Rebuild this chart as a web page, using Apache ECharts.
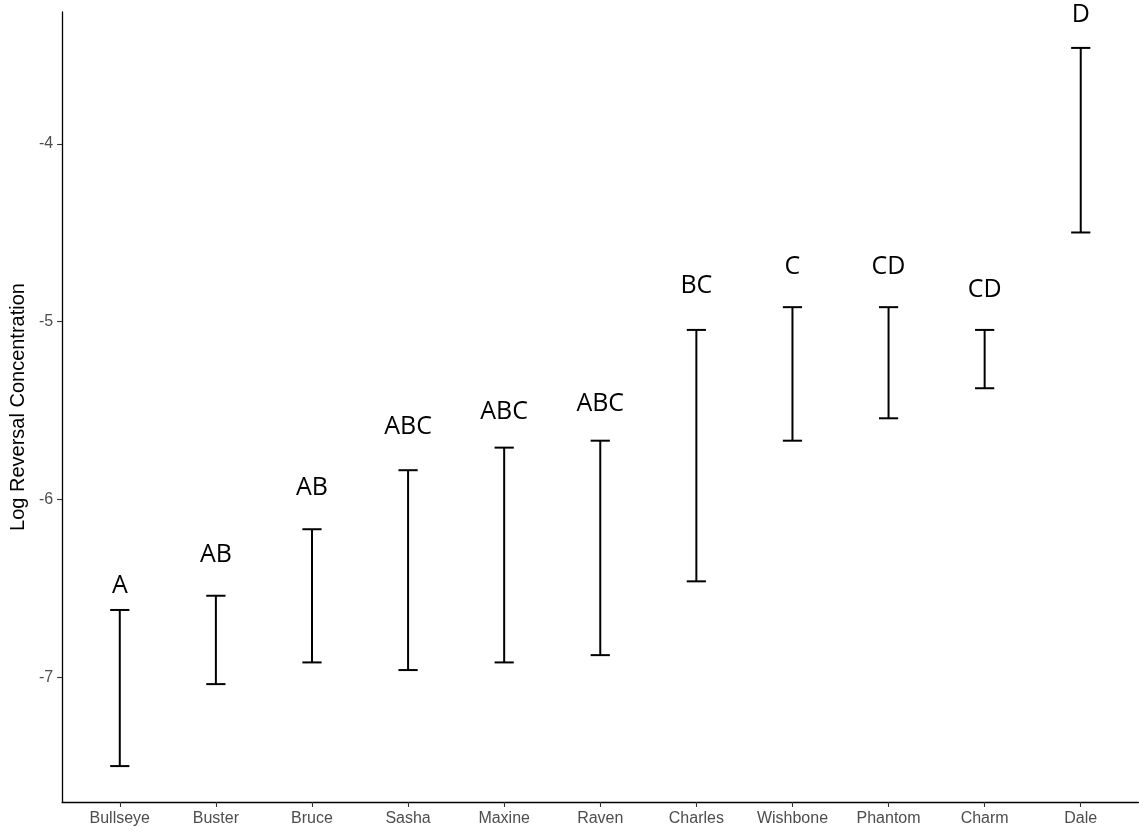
<!DOCTYPE html>
<html>
<head>
<meta charset="utf-8">
<script src="https://cdn.jsdelivr.net/npm/echarts@6/dist/echarts.min.js"></script>
<style>
html,body{margin:0;padding:0;background:#fff;}
#chart{width:1139px;height:832px;}
</style>
</head>
<body>
<div id="chart"></div>
<script>
const categories = ['Bullseye','Buster','Bruce','Sasha','Maxine','Raven','Charles','Wishbone','Phantom','Charm','Dale'];
const lower = [-7.500,-7.039,-6.917,-6.960,-6.917,-6.876,-6.461,-5.670,-5.544,-5.375,-4.499];
const upper = [-6.622,-6.542,-6.168,-5.836,-5.709,-5.670,-5.047,-4.919,-4.919,-5.047,-3.461];
const letters = ['A','AB','AB','ABC','ABC','ABC','BC','C','CD','CD','D'];
const letterY = [-6.487,-6.313,-5.934,-5.592,-5.506,-5.464,-4.799,-4.692,-4.692,-4.821,-3.274];
const yTicks = [-7,-6,-5,-4];
const yTitle = 'Log Reversal Concentration';

const idx = categories.map((c,i)=>i);
const chart = echarts.init(document.getElementById('chart'), null, {renderer:'canvas'});
const axisFont = '"Liberation Sans", Arial, sans-serif';
chart.setOption({
  animation:false,
  backgroundColor:'#ffffff',
  grid:{left:60,right:0.6,top:12,bottom:30,containLabel:false},
  xAxis:{
    type:'value', min:-0.6, max:10.6,
    axisLine:{show:true,onZero:false,lineStyle:{color:'#000',width:1.3}},
    axisTick:{show:true,customValues:idx,length:5,lineStyle:{color:'#333',width:1.1}},
    axisLabel:{show:true,customValues:idx,formatter:v=>categories[Math.round(v)],
      color:'#4d4d4d',fontSize:16,fontFamily:axisFont,margin:9},
    splitLine:{show:false}
  },
  yAxis:{
    type:'value', min:-7.702, max:-3.259,
    name:yTitle, nameLocation:'middle', nameGap:33,
    nameTextStyle:{color:'#000',fontSize:20,fontFamily:axisFont},
    axisLine:{show:true,onZero:false,lineStyle:{color:'#000',width:1.3}},
    axisTick:{show:true,customValues:yTicks,length:5,lineStyle:{color:'#333',width:1.1}},
    axisLabel:{show:true,customValues:yTicks,color:'#4d4d4d',fontSize:16,fontFamily:axisFont,margin:9},
    splitLine:{show:false}
  },
  series:[{
    type:'custom',
    clip:false,
    data: idx.map(i=>[i, lower[i], upper[i], letterY[i]]),
    renderItem:function(params, api){
      const i = api.value(0);
      const lo = api.coord([i, api.value(1)]);
      const hi = api.coord([i, api.value(2)]);
      const lp = api.coord([i, api.value(3)]);
      const hw = api.size([0.2,0])[0]/2;
      const st = {stroke:'#000', lineWidth:2};
      return {type:'group', children:[
        {type:'line', shape:{x1:lo[0],y1:lo[1],x2:hi[0],y2:hi[1]}, style:st},
        {type:'line', shape:{x1:lo[0]-hw,y1:lo[1],x2:lo[0]+hw,y2:lo[1]}, style:st},
        {type:'line', shape:{x1:hi[0]-hw,y1:hi[1],x2:hi[0]+hw,y2:hi[1]}, style:st},
        {type:'text', x:lp[0], y:lp[1], style:{text:letters[params.dataIndex], fill:'#000',
          font:'25px "Open Sans", sans-serif', align:'center', verticalAlign:'middle'}}
      ]};
    }
  }]
});
</script>
</body>
</html>
